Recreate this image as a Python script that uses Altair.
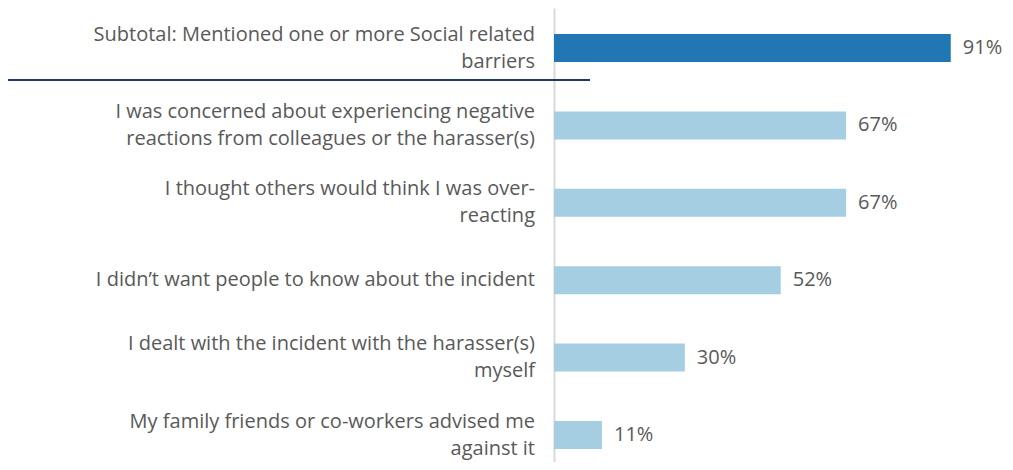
import altair as alt
import pandas as pd

labels = [
    "Subtotal: Mentioned one or more Social related|barriers",
    "I was concerned about experiencing negative|reactions from colleagues or the harasser(s)",
    "I thought others would think I was over-|reacting",
    "I didn’t want people to know about the incident",
    "I dealt with the incident with the harasser(s)|myself",
    "My family friends or co-workers advised me|against it",
]
values = [91, 67, 67, 52, 30, 11]
groups = ["subtotal", "item", "item", "item", "item", "item"]

df = pd.DataFrame({"label": labels, "value": values, "group": groups})
df["text"] = df["value"].astype(str) + "%"

FONT = "Open Sans"

y_scale = alt.Scale(paddingInner=0.638, paddingOuter=0.252, align=0.667)
y_enc = alt.Y(
    "label:N",
    sort=labels,
    scale=y_scale,
    axis=alt.Axis(
        title=None,
        labels=False,
        ticks=False,
        domainColor="#d9d9d9",
        domainWidth=2,
        grid=False,
    ),
)
x_enc = alt.X("value:Q", scale=alt.Scale(domain=[0, 100]), axis=None)

bars = alt.Chart(df).mark_bar().encode(
    y=y_enc,
    x=x_enc,
    color=alt.Color(
        "group:N",
        scale=alt.Scale(domain=["subtotal", "item"], range=["#2077b4", "#a6cee3"]),
        legend=None,
    ),
)

text = alt.Chart(df).mark_text(
    align="left", baseline="middle", dx=12, font=FONT, fontSize=20, color="#595959"
).encode(y=alt.Y("label:N", sort=labels), x="value:Q", text="text:N")

label_style = dict(
    align="right",
    baseline="middle",
    font=FONT,
    fontSize=20,
    color="#595959",
    lineBreak="|",
    lineHeight=27,
)

labels_one = (
    alt.Chart(df)
    .transform_filter("indexof(datum.label, '|') < 0")
    .mark_text(**label_style)
    .encode(y=alt.Y("label:N", sort=labels), x=alt.value(-19), text="label:N")
)
labels_two = (
    alt.Chart(df)
    .transform_filter("indexof(datum.label, '|') >= 0")
    .mark_text(dy=-13.5, **label_style)
    .encode(y=alt.Y("label:N", sort=labels), x=alt.value(-19), text="label:N")
)

sep = alt.Chart(df).mark_rule(color="#1f3864", strokeWidth=2).encode(
    x=alt.value(-546), x2=alt.value(36), y=alt.value(72)
)

chart = (
    alt.layer(bars, text, labels_one, labels_two, sep)
    .properties(
        width=436,
        height=454,
        autosize=alt.AutoSizeParams(type="none"),
        padding={"left": 546, "top": 0, "right": 15, "bottom": 0},
    )
    .configure_view(stroke=None)
)

chart.save("out.html", embed_options={"renderer": "svg", "actions": False})
